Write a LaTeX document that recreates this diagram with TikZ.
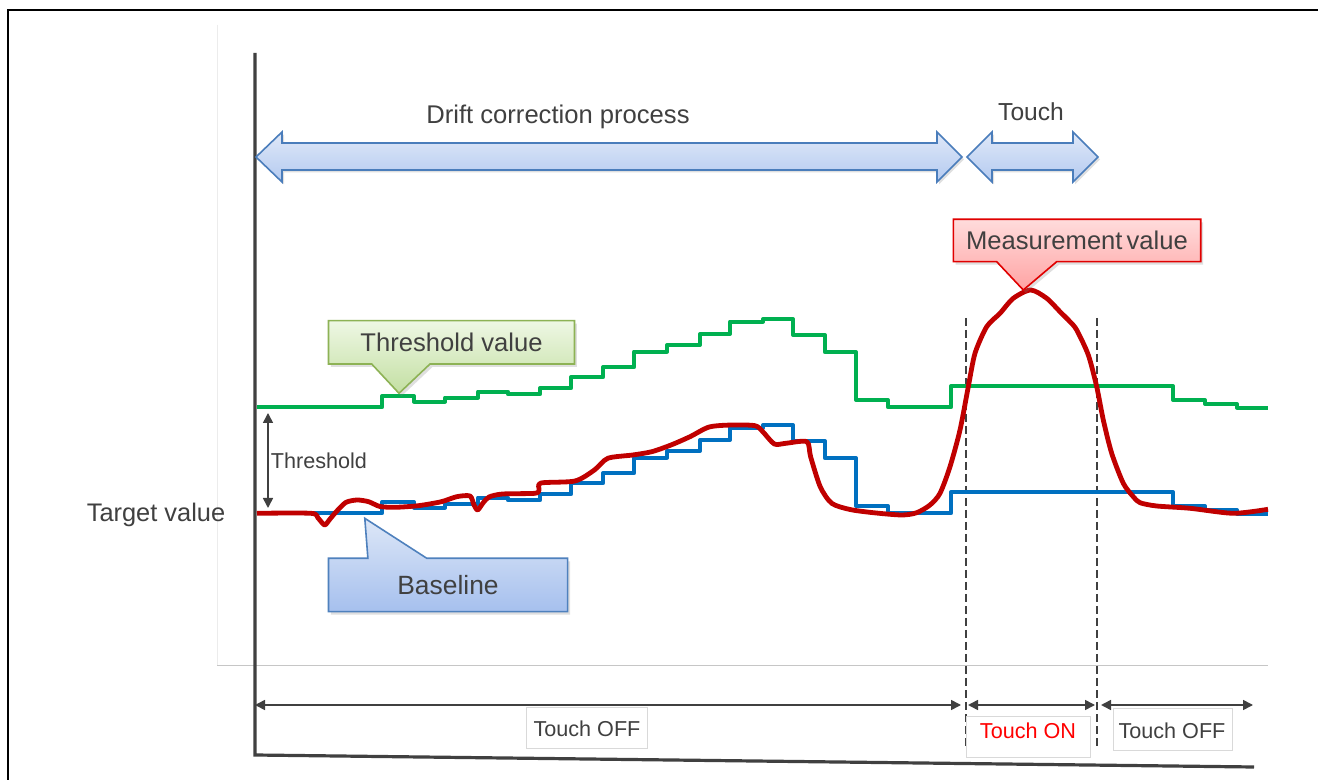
\documentclass[tikz,border=0pt]{standalone}
\usepackage{fontspec}
\setmainfont{Liberation Sans}
\usetikzlibrary{arrows.meta,shadows}
\definecolor{gline}{HTML}{00B050}
\definecolor{bline}{HTML}{0070C0}
\definecolor{rline}{HTML}{C00000}
\definecolor{axisc}{HTML}{404040}
\definecolor{txtc}{HTML}{404040}
\definecolor{arrowborder}{HTML}{4A7DBB}
\definecolor{arrowtop}{HTML}{DFE8F8}
\definecolor{arrowbot}{HTML}{B4CAF0}
\definecolor{gcborder}{HTML}{8DB255}
\definecolor{gctop}{HTML}{EEF7E4}
\definecolor{gcbot}{HTML}{C3DFA2}
\definecolor{bcborder}{HTML}{4F81BD}
\definecolor{bctop}{HTML}{DDE7F7}
\definecolor{bcbot}{HTML}{A6C0EE}
\definecolor{rcborder}{HTML}{E00000}
\definecolor{rctop}{HTML}{FFDCDC}
\definecolor{rcbot}{HTML}{FFA3A3}
\definecolor{boxgray}{HTML}{D9D9D9}
\tikzset{
  txt/.style={inner sep=0pt, text=txtc},
  bigfont/.style={font=\fontsize{12.8}{15}\selectfont},
  smallfont/.style={font=\fontsize{10.8}{13}\selectfont},
  fatarrow/.style={draw=arrowborder, line width=0.8pt, top color=arrowtop, bottom color=arrowbot, line join=miter,
    drop shadow={opacity=0.25, shadow xshift=1pt, shadow yshift=-1.2pt}},
  callshadow/.style={drop shadow={opacity=0.25, shadow xshift=1.2pt, shadow yshift=-1.5pt}},
  curve/.style={line width=2pt, line join=round, line cap=butt},
  dimarrow/.style={draw=axisc, line width=0.8pt, {Triangle[length=5pt,width=5pt]}-{Triangle[length=5pt,width=5pt]}},
  lblbox/.style={draw=boxgray, line width=0.4pt, fill=white},
  vdash/.style={draw=axisc, line width=0.7pt, dash pattern=on 4pt off 2pt}
}
\begin{document}
\begin{tikzpicture}[x=0.5pt, y=-0.5pt]
\useasboundingbox (0,0) rectangle (1318,780);
\fill[white] (0,0) rectangle (1318,780);
% outer frame
\draw[black, line width=1pt] (8,780) -- (8,10) -- (1318,10);
% faint plot area
\draw[gray!15, line width=0.5pt] (217,25) -- (217,665);
\draw[gray!45, line width=0.5pt] (217,665) -- (1268,665);

% axes
\coordinate (ytop) at (255,53);
\coordinate (origin) at (255,755);
\coordinate (xend) at (1254,767);
\draw[axisc, line width=1.6pt] (ytop) -- (origin) -- (xend);

% big double arrows
\path[fatarrow] (256,157) -- (282,132) -- (282,143) -- (937,143) -- (937,132) -- (962,157) -- (937,182) -- (937,170) -- (282,170) -- (282,182) -- cycle;
\path[fatarrow] (967,157) -- (992,132) -- (992,143) -- (1073,143) -- (1073,132) -- (1098,157) -- (1073,182) -- (1073,170) -- (992,170) -- (992,182) -- cycle;
\node[txt, bigfont] (drift) at (558,117) {Drift correction process};
\node[txt, bigfont, font=\fontsize{12.3}{15}\selectfont] (touch) at (1031,112) {Touch};

% dashed verticals
\coordinate (d1t) at (966,318);
\coordinate (d1b) at (966,748);
\coordinate (d2t) at (1097,318);
\coordinate (d2b) at (1097,748);
\draw[vdash] (d1t) -- (d1b);
\draw[vdash] (d2t) -- (d2b);

% threshold (green)
\draw[gline, curve] (257,407.3) -| (382,396) -| (414,401.7) -| (445,397.7) -| (478,391.7) -| (508,394.3) -| (540,388.3) -| (571,377.3) -| (603,367.3) -| (634,351.7) -| (667,345) -| (700,334) -| (730,321.7) -| (763,319) -| (793,335) -| (825,352.3) -| (856,400) -| (888,407.3) -| (951,386) -| (1173,400) -| (1205,404) -| (1237,407.7) -- (1268,407.7);
% baseline (blue)
\draw[bline, curve] (257,513.3) -| (382,502) -| (414,507.7) -| (445,503.7) -| (478,497.7) -| (508,500.3) -| (540,494.3) -| (571,483.3) -| (603,473.3) -| (634,457.7) -| (667,451) -| (700,440) -| (730,427.7) -| (763,425) -| (793,441) -| (825,458.3) -| (856,506) -| (888,513.3) -| (951,492) -| (1173,506) -| (1205,510) -| (1237,513.7) -- (1268,513.7);
% measurement (red)
\draw[rline, curve, line width=2.4pt] plot[smooth, tension=0.45] coordinates {
(257,513.3) (311,513.3) (318,518) (324.6,525) (330,519) (336,512) (345.7,502.5) (357,500) (368.6,501.7) (380,506.5)
(395.4,507.3) (418.4,505.7) (441.4,501.7) (456.7,496.7) (470,496) (474,505) (477.7,510) (483,503) (489,497)
(502.6,494) (535,493.3) (539,490) (541,483) (575,481) (594.4,470) (607.8,458.3) (632.7,455) (651.8,451.7)
(671,445) (690,436.7) (709.2,427) (732,425) (755,425.7) (762.8,431.7) (774.3,444) (785.8,443.3) (806.8,441.7)
(810.6,456.7) (820.2,486.7) (831.7,503.3) (850,509.5) (873.3,512.7) (901.7,515) (916.7,512.7) (930,505)
(940,493.3) (950,466.7) (960,430) (968.3,386.7) (975,353.3) (986.7,326.7) (1000,313.3) (1013.3,298.3)
(1030.7,290) (1046.7,298.3) (1060,311.7) (1070,321.7) (1076.7,330) (1088.3,355) (1096.7,386.7) (1103.3,420)
(1111.7,453.3) (1123.3,483.3) (1133.3,496.7) (1140,502.7) (1156.7,506) (1190,508.3) (1233.3,513.3) (1268,509.3)};

% threshold dimension
\coordinate (tht) at (268,413);
\coordinate (thb) at (268,508);
\draw[dimarrow] (tht) -- (thb);
\node[txt, smallfont, anchor=west] (thr) at (270.5,461) {Threshold};

% target value
\node[txt, bigfont, font=\fontsize{12.7}{15}\selectfont] (target) at (156,515) {Target value};

% callouts
\path[draw=gcborder, line width=0.8pt, top color=gctop, bottom color=gcbot, callshadow]
  (328.5,320.7) -- (574.5,320.7) -- (574.5,364) -- (430,364) -- (399,393.3) -- (371.7,364) -- (328.5,364) -- cycle;
\node[txt, bigfont] (thv) at (451.5,342.5) {Threshold value};

\path[draw=bcborder, line width=0.8pt, top color=bctop, bottom color=bcbot, callshadow]
  (328.5,558.3) -- (367.9,558.3) -- (364.8,518.3) -- (426.8,558.3) -- (567.6,558.3) -- (567.6,611.7) -- (328.5,611.7) -- cycle;
\node[txt, bigfont, font=\fontsize{13.2}{15}\selectfont] (base) at (448,585) {Baseline};

\path[draw=rcborder, line width=0.8pt, top color=rctop, bottom color=rcbot, callshadow]
  (953.3,219.3) -- (1200.7,219.3) -- (1200.7,261.7) -- (1056.7,261.7) -- (1023.3,290) -- (996.7,261.7) -- (953.3,261.7) -- cycle;
\node[txt, bigfont] (meas) at (1077,240.5) {Measurement\hspace{-1.5pt} value};

% bottom dimension arrows
\coordinate (a1l) at (255,705);
\coordinate (a1r) at (961,705);
\coordinate (a2l) at (968,705);
\coordinate (a2r) at (1095,705);
\coordinate (a3l) at (1101,705);
\coordinate (a3r) at (1253,705);
\draw[dimarrow] (a1l) -- (a1r);
\draw[dimarrow] (a2l) -- (a2r);
\draw[dimarrow] (a3l) -- (a3r);

\draw[lblbox] (526.5,707) rectangle (647,748);
\node[txt, smallfont] (off1) at (587,729) {Touch OFF};
\draw[lblbox] (966,716) rectangle (1090,757);
\node[inner sep=0pt, text=red, smallfont] (on) at (1028,731) {Touch ON};
\draw[lblbox] (1113,708) rectangle (1232,750);
\node[txt, smallfont] (off2) at (1172,731) {Touch OFF};
\end{tikzpicture}
\end{document}
